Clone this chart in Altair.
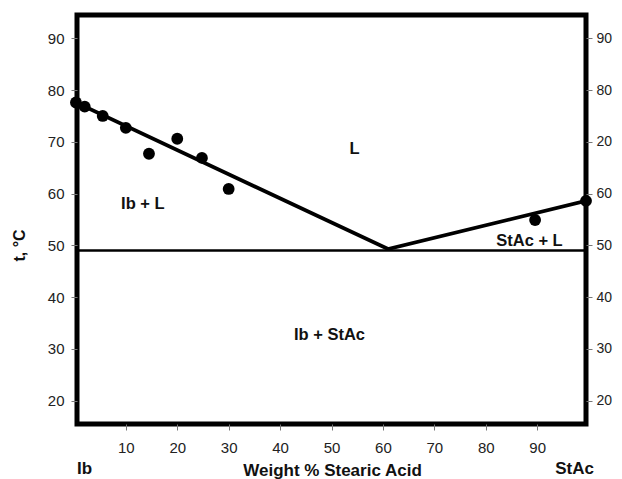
import altair as alt
import pandas as pd

# experimental points (weight % stearic acid, temperature °C)
pt_x = [0.3, 2.0, 5.5, 10.0, 14.5, 20.0, 24.8, 30.0, 89.6, 99.5]
pt_y = [77.6, 76.8, 75.0, 72.7, 67.7, 70.6, 66.9, 60.9, 54.9, 58.6]

# liquidus lines
liq_x = [0.5, 61.0, 99.5]
liq_y = [77.5, 49.3, 58.6]

# eutectic line
eut_x = [0.5, 99.5]
eut_y = [49.0, 49.0]

# region labels
reg_text = ["L", "Ib + L", "StAc + L", "Ib + StAc"]
reg_x = [54.5, 13.3, 88.5, 49.6]
reg_y = [68.6, 58.0, 50.9, 32.7]

# end labels below the axis
end_text = ["Ib", "StAc"]
end_x = [0.5, 93.5]

x_ticks = [10, 20, 30, 40, 50, 60, 70, 80, 90]
y_ticks = [20, 30, 40, 50, 60, 70, 80, 90]
right_labels = ["20", "30", "40", "50", "60", "20", "80", "90"]

W, H = 509, 409
FONT = "Liberation Sans"

xs = alt.Scale(domain=[0.5, 99.5], nice=False, zero=False)
ys = alt.Scale(domain=[15.5, 94.5], nice=False, zero=False)

pts = pd.DataFrame({"x": pt_x, "y": pt_y})
liq = pd.DataFrame({"x": liq_x, "y": liq_y, "o": range(len(liq_x))})
eut = pd.DataFrame({"x": eut_x, "y": eut_y, "o": range(len(eut_x))})
reg = pd.DataFrame({"t": reg_text, "x": reg_x, "y": reg_y})
ends = pd.DataFrame({"t": end_text, "x": end_x})

right_expr = "{" + ",".join(f"'{v}':'{l}'" for v, l in zip(y_ticks, right_labels)) + "}[datum.value]"

axis_common = dict(labelFont=FONT, labelColor="#222",
                   tickColor="#777", tickSize=6, tickWidth=1, domain=False, grid=False)

x_axis = alt.Axis(values=x_ticks, title="Weight % Stearic Acid", titleFont=FONT,
                  titleFontSize=17, titleFontWeight="bold", titleColor="#111",
                  titleX=255, titleY=46, titleBaseline="middle",
                  labelPadding=10, labelFontSize=15, **axis_common)
y_axis = alt.Axis(values=y_ticks, title="t, °C", titleFont=FONT, titleFontSize=16,
                  titleFontWeight="bold", titleColor="#111", titleX=-58, titleY=230,
                  titleBaseline="middle", titleAngle=-90, labelPadding=7,
                  labelFontSize=15, **axis_common)
y_axis_r = alt.Axis(values=y_ticks, orient="right", title=None, labelExpr=right_expr,
                    labelPadding=4, labelFontSize=14, **axis_common)

base_pts = alt.Chart(pts).mark_circle(size=140, color="black", opacity=1, clip=False).encode(
    x=alt.X("x:Q", scale=xs, axis=x_axis),
    y=alt.Y("y:Q", scale=ys, axis=y_axis),
)

liq_line = alt.Chart(liq).mark_line(color="black", strokeWidth=3.8, clip=True).encode(
    x=alt.X("x:Q", scale=xs), y=alt.Y("y:Q", scale=ys, axis=y_axis_r), order="o:Q"
)

eut_line = alt.Chart(eut).mark_line(color="black", strokeWidth=2.5, clip=True).encode(
    x=alt.X("x:Q", scale=xs), y=alt.Y("y:Q", scale=ys, axis=None), order="o:Q"
)

reg_txt = alt.Chart(reg).mark_text(font=FONT, fontSize=16.5, fontWeight="bold", color="#111").encode(
    x=alt.X("x:Q", scale=xs), y=alt.Y("y:Q", scale=ys, axis=None), text="t:N"
)

end_txt = alt.Chart(ends).mark_text(font=FONT, fontSize=17, fontWeight="bold", color="#111",
                                    align="left", baseline="middle").encode(
    x=alt.X("x:Q", scale=xs), y=alt.value(H + 45), text="t:N"
)

chart = alt.layer(base_pts, liq_line, eut_line, reg_txt, end_txt).resolve_axis(
    y="independent"
).properties(
    width=W, height=H,
    autosize=alt.AutoSizeParams(type="none"),
    padding={"left": 69, "top": 7, "right": 28, "bottom": 55},
    background="white",
).configure_view(stroke="black", strokeWidth=5)

chart.save("out.html", embed_options={"renderer": "svg", "actions": False})
